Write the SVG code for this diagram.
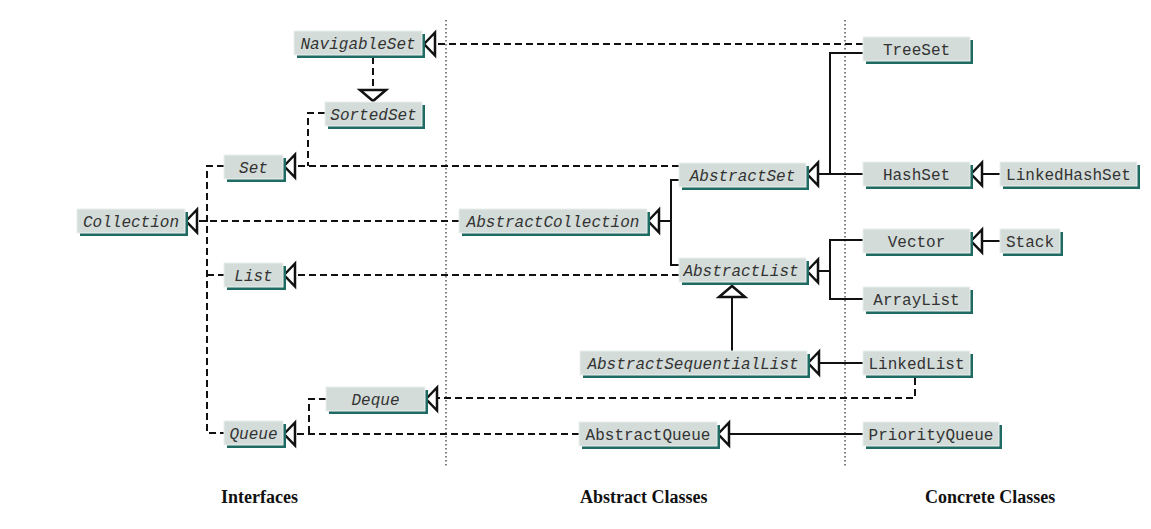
<svg xmlns="http://www.w3.org/2000/svg" xmlns:xlink="http://www.w3.org/1999/xlink" width="1151" height="529" viewBox="0 0 1151 529">
<style>
.bg{fill:#ffffff}
.sh{fill:#1f6b63}
.box{fill:#d3dcd9;stroke:#eaf0ee;stroke-width:1}
.t{font-family:"Liberation Mono","DejaVu Sans Mono",monospace;font-size:16px;fill:#333;text-anchor:middle}
.i{font-style:italic}
.dash{fill:none;stroke:#111;stroke-width:2;stroke-dasharray:7 4}
.solid{fill:none;stroke:#111;stroke-width:2}
.tri{fill:#fff;stroke:#111;stroke-width:2.5;stroke-linejoin:miter}
.dot{fill:none;stroke:#555;stroke-width:1.5;stroke-dasharray:1.5 2.5}
.lab{font-family:"Liberation Serif","Times New Roman",serif;font-weight:bold;font-size:18px;fill:#111}
</style>
<defs>
<path id="triL" d="M1 0 L12 -11.5 L12 11.5 Z"/>
<path id="triD" d="M0 0 L-13 -11 L13 -11 Z"/>
<path id="triU" d="M0 0 L-13 11 L13 11 Z"/>
</defs>
<rect class="bg" x="0" y="0" width="1151" height="529"/>
<g id="dividers">
<line class="dot" x1="446" y1="20" x2="446" y2="466"/>
<line class="dot" x1="845" y1="20" x2="845" y2="466"/>
</g>
<g id="connectors">
<path class="dash" d="M863 44 H436"/>
<path class="dash" d="M373 57 V90"/>
<path class="dash" d="M325 113 H308 V166"/>
<path class="dash" d="M679 166 H296"/>
<path class="dash" d="M459 221 H198"/>
<path class="dash" d="M679 275 H296"/>
<path class="dash" d="M224 166 H207 V433 H224 M207 275 H224"/>
<path class="dash" d="M915 378 V398 H438"/>
<path class="dash" d="M326 399 H309 V433"/>
<path class="dash" d="M579 434 H296"/>
<path class="solid" d="M660 221 H671 M679 180 H671 V265 H679"/>
<path class="solid" d="M819 174 H863 M863 53 H830 V174"/>
<path class="solid" d="M983 174 H1000"/>
<path class="solid" d="M819 271 H830 M863 240 H830 V299 H863"/>
<path class="solid" d="M983 241 H1000"/>
<path class="solid" d="M732 297 V351"/>
<path class="solid" d="M820 363 H863"/>
<path class="solid" d="M730 434 H863"/>
<use class="tri" xlink:href="#triL" x="423" y="44"/>
<use class="tri" xlink:href="#triD" x="373" y="101"/>
<use class="tri" xlink:href="#triL" x="283" y="166"/>
<use class="tri" xlink:href="#triL" x="185" y="221"/>
<use class="tri" xlink:href="#triL" x="283" y="275"/>
<use class="tri" xlink:href="#triL" x="425" y="399"/>
<use class="tri" xlink:href="#triL" x="283" y="434"/>
<use class="tri" xlink:href="#triL" x="647" y="221"/>
<use class="tri" xlink:href="#triL" x="806" y="174"/>
<use class="tri" xlink:href="#triL" x="970" y="174"/>
<use class="tri" xlink:href="#triL" x="806" y="271"/>
<use class="tri" xlink:href="#triL" x="970" y="241"/>
<use class="tri" xlink:href="#triU" x="732" y="286"/>
<use class="tri" xlink:href="#triL" x="807" y="363"/>
<use class="tri" xlink:href="#triL" x="717" y="434"/>
</g>
<g id="NavigableSet"><rect class="sh" x="297" y="34" width="128" height="24"/><rect class="box" x="294" y="31" width="128" height="24"/><text class="t i" x="358" y="48.5">NavigableSet</text></g>
<g id="SortedSet"><rect class="sh" x="328" y="105" width="97" height="24"/><rect class="box" x="325" y="102" width="97" height="24"/><text class="t i" x="373.5" y="119.5">SortedSet</text></g>
<g id="Set"><rect class="sh" x="227" y="158" width="59" height="24"/><rect class="box" x="224" y="155" width="59" height="24"/><text class="t i" x="253.5" y="172.5">Set</text></g>
<g id="Collection"><rect class="sh" x="80" y="212" width="108" height="24"/><rect class="box" x="77" y="209" width="108" height="24"/><text class="t i" x="131" y="226.5">Collection</text></g>
<g id="List"><rect class="sh" x="227" y="266" width="59" height="24"/><rect class="box" x="224" y="263" width="59" height="24"/><text class="t i" x="253.5" y="280.5">List</text></g>
<g id="Deque"><rect class="sh" x="329" y="390" width="99" height="24"/><rect class="box" x="326" y="387" width="99" height="24"/><text class="t i" x="375.5" y="404.5">Deque</text></g>
<g id="Queue"><rect class="sh" x="227" y="424" width="59" height="24"/><rect class="box" x="224" y="421" width="59" height="24"/><text class="t i" x="253.5" y="438.5">Queue</text></g>
<g id="AbstractCollection"><rect class="sh" x="462" y="212" width="188" height="24"/><rect class="box" x="459" y="209" width="188" height="24"/><text class="t i" x="553" y="226.5">AbstractCollection</text></g>
<g id="AbstractSet"><rect class="sh" x="682" y="166" width="127" height="24"/><rect class="box" x="679" y="163" width="127" height="24"/><text class="t i" x="742.5" y="180.5">AbstractSet</text></g>
<g id="AbstractList"><rect class="sh" x="682" y="261" width="127" height="24"/><rect class="box" x="679" y="258" width="127" height="24"/><text class="t i" x="741" y="275.5">AbstractList</text></g>
<g id="AbstractSequentialList"><rect class="sh" x="583" y="354" width="227" height="24"/><rect class="box" x="580" y="351" width="227" height="24"/><text class="t i" x="693" y="368.5">AbstractSequentialList</text></g>
<g id="AbstractQueue"><rect class="sh" x="582" y="425" width="138" height="24"/><rect class="box" x="579" y="422" width="138" height="24"/><text class="t" x="648" y="439.5">AbstractQueue</text></g>
<g id="TreeSet"><rect class="sh" x="866" y="40" width="107" height="24"/><rect class="box" x="863" y="37" width="107" height="24"/><text class="t" x="916.5" y="54.5">TreeSet</text></g>
<g id="HashSet"><rect class="sh" x="866" y="165" width="107" height="24"/><rect class="box" x="863" y="162" width="107" height="24"/><text class="t" x="916.5" y="179.5">HashSet</text></g>
<g id="LinkedHashSet"><rect class="sh" x="1003" y="165" width="137" height="24"/><rect class="box" x="1000" y="162" width="137" height="24"/><text class="t" x="1068.5" y="179.5">LinkedHashSet</text></g>
<g id="Vector"><rect class="sh" x="866" y="232" width="107" height="24"/><rect class="box" x="863" y="229" width="107" height="24"/><text class="t" x="916.5" y="246.5">Vector</text></g>
<g id="Stack"><rect class="sh" x="1003" y="232" width="60" height="24"/><rect class="box" x="1000" y="229" width="60" height="24"/><text class="t" x="1030" y="246.5">Stack</text></g>
<g id="ArrayList"><rect class="sh" x="866" y="290" width="107" height="24"/><rect class="box" x="863" y="287" width="107" height="24"/><text class="t" x="916.5" y="304.5">ArrayList</text></g>
<g id="LinkedList"><rect class="sh" x="866" y="354" width="107" height="24"/><rect class="box" x="863" y="351" width="107" height="24"/><text class="t" x="916.5" y="368.5">LinkedList</text></g>
<g id="PriorityQueue"><rect class="sh" x="866" y="425" width="136" height="24"/><rect class="box" x="863" y="422" width="136" height="24"/><text class="t" x="931" y="439.5">PriorityQueue</text></g>
<g id="labels">
<text class="lab" x="221" y="503">Interfaces</text>
<text class="lab" x="580" y="503">Abstract Classes</text>
<text class="lab" x="925" y="503">Concrete Classes</text>
</g>
</svg>
